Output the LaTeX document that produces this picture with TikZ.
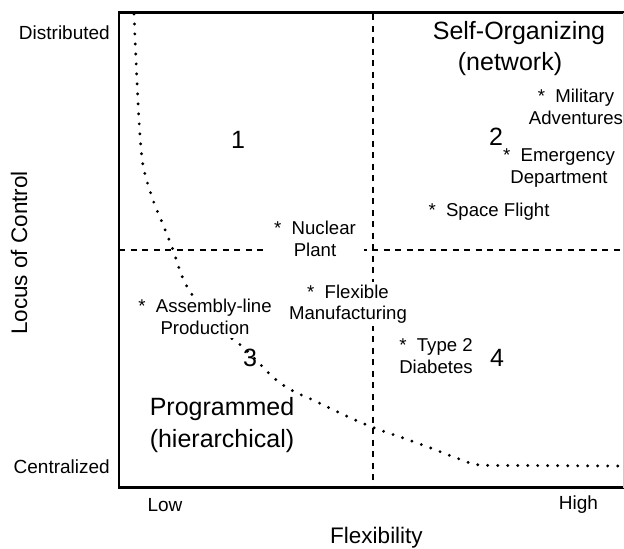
\documentclass[tikz,border=0pt]{standalone}
\usepackage{fontspec}
\setmainfont{Liberation Sans}
\begin{document}
\begin{tikzpicture}[x=1pt,y=-1pt,
  small/.style={inner sep=0pt,align=center,font=\fontsize{18.6}{21.5}\selectfont},
  masked/.style={fill=white,inner xsep=8pt,inner ysep=3pt},
  axlabel/.style={inner sep=0pt,font=\fontsize{19}{22}\selectfont},
  axtitle/.style={inner sep=0pt,font=\fontsize{22.5}{26}\selectfont},
  big/.style={inner sep=0pt,align=center,font=\fontsize{25}{32}\selectfont},
  frame/.style={line width=2.6pt},
  divider/.style={line width=2.2pt,dash pattern=on 6pt off 5.5pt},
  curve/.style={line width=3.2pt,line cap=round,dash pattern=on 0pt off 10pt}]
\useasboundingbox (0,0) rectangle (624,549);
% frame
\coordinate (tl) at (119,12.5);
\coordinate (tr) at (624,12.5);
\coordinate (bl) at (119,487.5);
\coordinate (br) at (624,487.5);
\draw[frame] (tr) -- (tl) -- (bl) -- (br);
\draw[gray!40,line width=0.6pt] (623.3,12.5) -- (623.3,487.5);
% dividers
\coordinate (hl) at (119,250);
\coordinate (hr) at (620,250);
\coordinate (vt) at (373.3,14);
\coordinate (vb) at (373.3,487);
\draw[divider] (hl) -- (hr);
\draw[divider] (vt) -- (vb);
% dotted boundary curve
\draw[curve] plot[smooth,tension=0.55] coordinates {(134,14) (136,60) (139,120) (143,165) (153,200) (162,222) (173,250) (185,283) (205,312) (225,333) (243,347) (258,362) (275,379) (293,391) (313,400) (340,413) (372,427) (420,444) (462,460) (480,465) (530,465.5) (622,466)};
% axis labels
\node[axlabel,anchor=east] (dist) at (110,33) {Distributed};
\node[axlabel,anchor=east] (cent) at (110,467) {Centralized};
\node[axlabel] (low) at (165,505) {Low};
\node[axlabel] (high) at (578.5,505) {High};
\node[axtitle] (flex) at (376.5,538) {Flexibility};
\node[axtitle,rotate=90] (locus) at (19,253) {Locus of Control};
% quadrant numbers
\node[big] (q1) at (238,140) {1};
\node[big] (q2) at (496,137) {2};
\node[big] (q3) at (250,358) {3};
\node[big] (q4) at (497,358) {4};
% region titles
\node[big] (selforg) at (519,33) {Self-Organizing};
\node[big] (network) at (510,64) {(network)};
\node[big] (prog) at (222,425) {Programmed\\(hierarchical)};
% examples
\node[small] (military) at (576,107) {*\ \ Military\\Adventures};
\node[small] (emerg) at (559,168) {*\ \ Emergency\\Department};
\node[small] (space) at (489,212) {*\ \ Space Flight};
\node[small,masked] (nuclear) at (315,239) {*\ \ Nuclear\\Plant};
\node[small,masked] (flexman) at (348,304) {*\ \ Flexible\\Manufacturing};
\node[small,masked] (assembly) at (205,317) {*\ \ Assembly-line\\Production};
\node[small] (diab) at (436,356) {*\ \ Type 2\\Diabetes};
\end{tikzpicture}
\end{document}
